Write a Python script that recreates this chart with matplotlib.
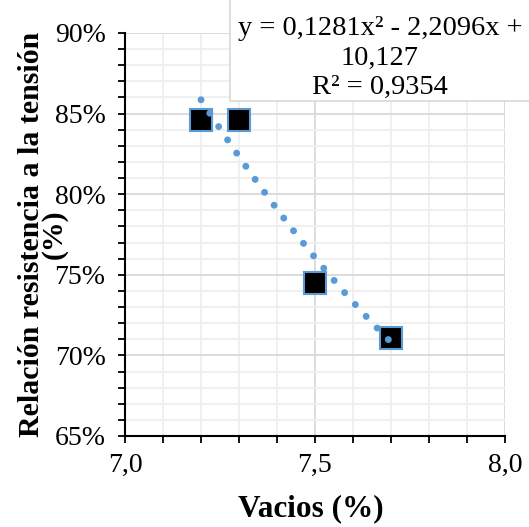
import matplotlib
matplotlib.use("Agg")
import matplotlib.pyplot as plt
import matplotlib.patches as mpatches
import numpy as np
from matplotlib.ticker import FuncFormatter, MultipleLocator

# datos
vacios = [7.2, 7.3, 7.5, 7.7]
relacion = [0.846, 0.846, 0.745, 0.711]

# coeficientes de la linea de tendencia (ecuacion mostrada)
coef_a, coef_b, coef_c = 0.1281, -2.2096, 10.127
ecuacion = "y = 0,1281x² - 2,2096x +\n10,127\nR² = 0,9354"

BLUE = "#5B9BD5"
SERIF = ["Liberation Serif", "DejaVu Serif"]

plt.rcParams["font.family"] = SERIF

fig = plt.figure(figsize=(5.29, 5.27), dpi=100)
ax = fig.add_axes([0.2363, 0.1727, 0.7183, 0.7647])

# linea de tendencia punteada
xt = np.linspace(min(vacios), max(vacios), 300)
yt = coef_a * xt ** 2 + coef_b * xt + coef_c
ax.plot(xt, yt, color=BLUE, linewidth=5, linestyle=(0, (0.01, 2.3)),
        dash_capstyle="round", zorder=3)

ax.plot(vacios, relacion, linestyle="none", marker="s", markersize=16.5,
        markerfacecolor="black", markeredgecolor=BLUE, markeredgewidth=1.5,
        zorder=2)

ax.set_xlim(7.0, 8.0)
ax.set_ylim(0.65, 0.90)
ax.xaxis.set_major_locator(MultipleLocator(0.5))
ax.xaxis.set_minor_locator(MultipleLocator(0.1))
ax.yaxis.set_major_locator(MultipleLocator(0.05))
ax.yaxis.set_minor_locator(MultipleLocator(0.01))
ax.xaxis.set_major_formatter(FuncFormatter(lambda v, p: f"{v:.1f}".replace(".", ",")))
ax.yaxis.set_major_formatter(FuncFormatter(lambda v, p: f"{v * 100:.0f}%"))

ax.grid(which="major", color="#d9d9d9", linewidth=1.3, zorder=0)
ax.grid(which="minor", color="#efefef", linewidth=1.3, zorder=0)
ax.set_axisbelow(True)

for s in ["top", "right"]:
    ax.spines[s].set_visible(False)
for s in ["left", "bottom"]:
    ax.spines[s].set_linewidth(1.5)

ax.tick_params(axis="both", which="both", direction="out", width=1.3, color="black")
ax.tick_params(axis="both", which="major", length=5, labelsize=20)
ax.tick_params(axis="both", which="minor", length=5)
ax.tick_params(axis="x", which="major", pad=7)
ax.tick_params(axis="y", which="major", pad=9)

ax.set_xlabel("Vacios (%)", fontsize=22.5, fontweight="bold")
ax.xaxis.set_label_coords(0.49, -0.145)
ax.set_ylabel("Relación resistencia a la tensión\n(%)", fontsize=21.5,
              fontweight="bold", linespacing=0.8)
ax.yaxis.set_label_coords(-0.15, 0.5)

# recuadro con la ecuacion
caja = mpatches.Rectangle((0.435, 0.808), 0.6, 0.25, transform=fig.transFigure,
                          facecolor="white", edgecolor="#d9d9d9", linewidth=1.2,
                          zorder=5)
fig.patches.append(caja)
fig.text(0.718, 0.890, ecuacion, ha="center", va="center", fontsize=20.5,
         linespacing=1.25, zorder=6)

fig.savefig("out.png", dpi=100)
